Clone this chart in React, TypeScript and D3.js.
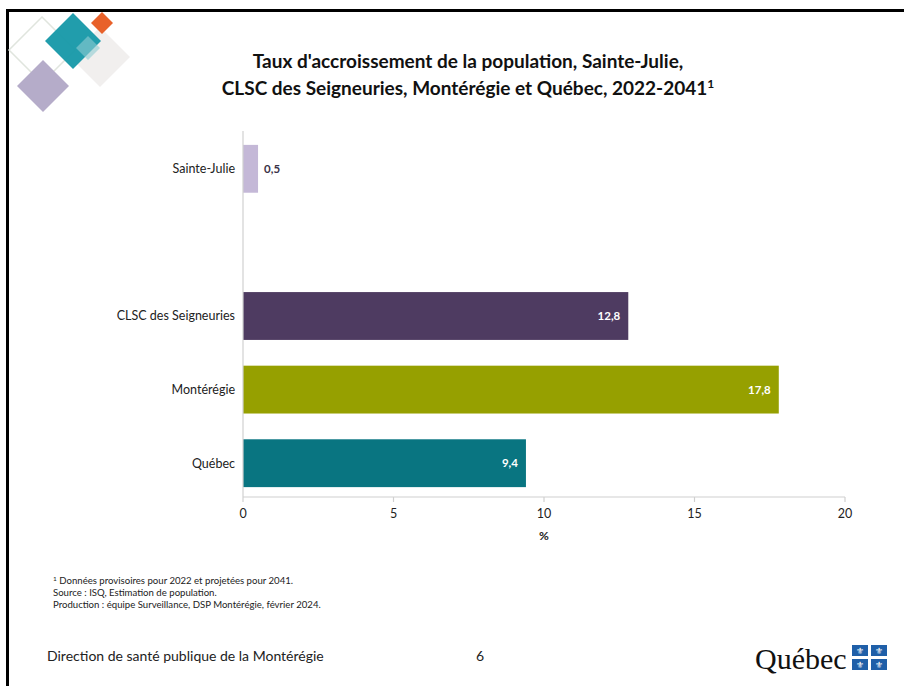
import React from "react";
import * as d3 from "d3";

const categories = ["Sainte-Julie", "", "CLSC des Seigneuries", "Montérégie", "Québec"];
const values: (number | null)[] = [0.5, null, 12.8, 17.8, 9.4];
const valueLabels = ["0,5", "", "12,8", "17,8", "9,4"];
const colors = ["#c4b8d7", "#ffffff", "#4e3b61", "#96a000", "#097581"];
const xTicks = [0, 5, 10, 15, 20];
const titleLines = [
  "Taux d'accroissement de la population, Sainte-Julie,",
  "CLSC des Seigneuries, Montérégie et Québec, 2022-2041",
];
const footnotes = [
  "Données provisoires pour 2022 et projetées pour 2041.",
  "Source : ISQ, Estimation de population.",
  "Production : équipe Surveillance, DSP Montérégie, février 2024.",
];

const W = 904;
const H = 686;
const FONT = "Lato, 'Open Sans', sans-serif";

export default function App() {
  const x = d3.scaleLinear().domain([0, 20]).range([243, 845]);
  const y = d3
    .scaleBand<string>()
    .domain(categories.map((c, i) => String(i)))
    .range([132, 500])
    .paddingInner(0.35)
    .paddingOuter(0.175);
  const axisY = 497;

  const diamond = (cx: number, cy: number, r: number) =>
    `M${cx},${cy - r}L${cx + r},${cy}L${cx},${cy + r}L${cx - r},${cy}Z`;

  return (
    <svg
      width={W}
      height={H}
      style={{ position: "absolute", left: 0, top: 0, background: "#fff" }}
      fontFamily={FONT}
    >
      <rect x={0} y={0} width={W} height={H} fill="#fff" />
      {/* slide border */}
      <rect x={6} y={9} width={W - 6} height={3} fill="#000" />
      <rect x={6} y={9} width={3} height={H - 9} fill="#000" />

      {/* decorative diamonds */}
      <path d={diamond(42, 50, 33)} fill="none" stroke="#e0e5de" strokeWidth={1.5} />
      <path d={diamond(100, 57, 30)} fill="#efedec" opacity={0.9} />
      <path d={diamond(73, 41, 28)} fill="#1598a8" opacity={0.95} />
      <path d={diamond(102, 23, 11)} fill="#e8612a" />
      <path d={diamond(88, 48, 12)} fill="#8fcbd2" opacity={0.6} />
      <path d={diamond(43, 86, 26)} fill="#b5acc9" />

      {/* title */}
      <text x={468} y={68} textAnchor="middle" fontSize={19} fontWeight="bold" fill="#111">
        {titleLines[0]}
      </text>
      <text x={468} y={95} textAnchor="middle" fontSize={19} fontWeight="bold" fill="#111">
        {titleLines[1]}
        <tspan fontSize={12} dy={-7}>1</tspan>
      </text>

      {/* bars */}
      {values.map((v, i) => {
        if (v === null) return null;
        const yy = y(String(i))!;
        const bw = y.bandwidth();
        const w = x(v) - x(0);
        const inside = w > 40;
        return (
          <g key={i}>
            <rect x={x(0)} y={yy} width={w} height={bw} fill={colors[i]} />
            <text
              x={inside ? x(v) - 8 : x(v) + 6}
              y={yy + bw / 2}
              dy="0.35em"
              textAnchor={inside ? "end" : "start"}
              fontSize={11.5}
              fontWeight="bold"
              fill={inside ? "#fff" : "#3a3248"}
            >
              {valueLabels[i]}
            </text>
            <text
              x={235}
              y={yy + bw / 2}
              dy="0.35em"
              textAnchor="end"
              fontSize={12.5}
              fill="#222"
            >
              {categories[i]}
            </text>
          </g>
        );
      })}

      {/* axes */}
      <line x1={x(0)} x2={x(0)} y1={131} y2={axisY} stroke="#d0d0d0" strokeWidth={1.2} />
      <line x1={x(0)} x2={x(20)} y1={axisY} y2={axisY} stroke="#d0d0d0" strokeWidth={1.2} />
      {xTicks.map((t) => (
        <g key={t}>
          <line x1={x(t)} x2={x(t)} y1={axisY} y2={axisY + 5} stroke="#d0d0d0" strokeWidth={1.2} />
          <text x={x(t)} y={axisY + 21} textAnchor="middle" fontSize={12.5} fill="#222">
            {t}
          </text>
        </g>
      ))}
      <text x={x(10)} y={axisY + 43} textAnchor="middle" fontSize={12} fontWeight="bold" fill="#222">
        %
      </text>

      {/* footnotes */}
      <text x={53} y={584} fontSize={9.6} fill="#222">
        <tspan fontSize={6.5} dy={-3}>1</tspan>
        <tspan dy={3}> {footnotes[0]}</tspan>
      </text>
      <text x={53} y={596} fontSize={9.6} fill="#222">{footnotes[1]}</text>
      <text x={53} y={608} fontSize={9.6} fill="#222">{footnotes[2]}</text>

      {/* footer */}
      <text x={47} y={661} fontSize={14} fill="#222">Direction de santé publique de la Montérégie</text>
      <text x={476} y={661} fontSize={14} fill="#222">6</text>

      {/* Québec logo */}
      <text x={755} y={669} fontSize={30} fontFamily="'Liberation Serif', serif" fill="#111">
        Québec
      </text>
      {[0, 1].map((r) =>
        [0, 1].map((c) => (
          <g key={`${r}-${c}`}>
            <rect x={852 + c * 19} y={645 + r * 14} width={16} height={11} fill="#1f5fa8" />
            <text x={852 + c * 19 + 8} y={645 + r * 14 + 9} textAnchor="middle" fontSize={9} fill="#fff">
              ⚜
            </text>
          </g>
        ))
      )}
    </svg>
  );
}
